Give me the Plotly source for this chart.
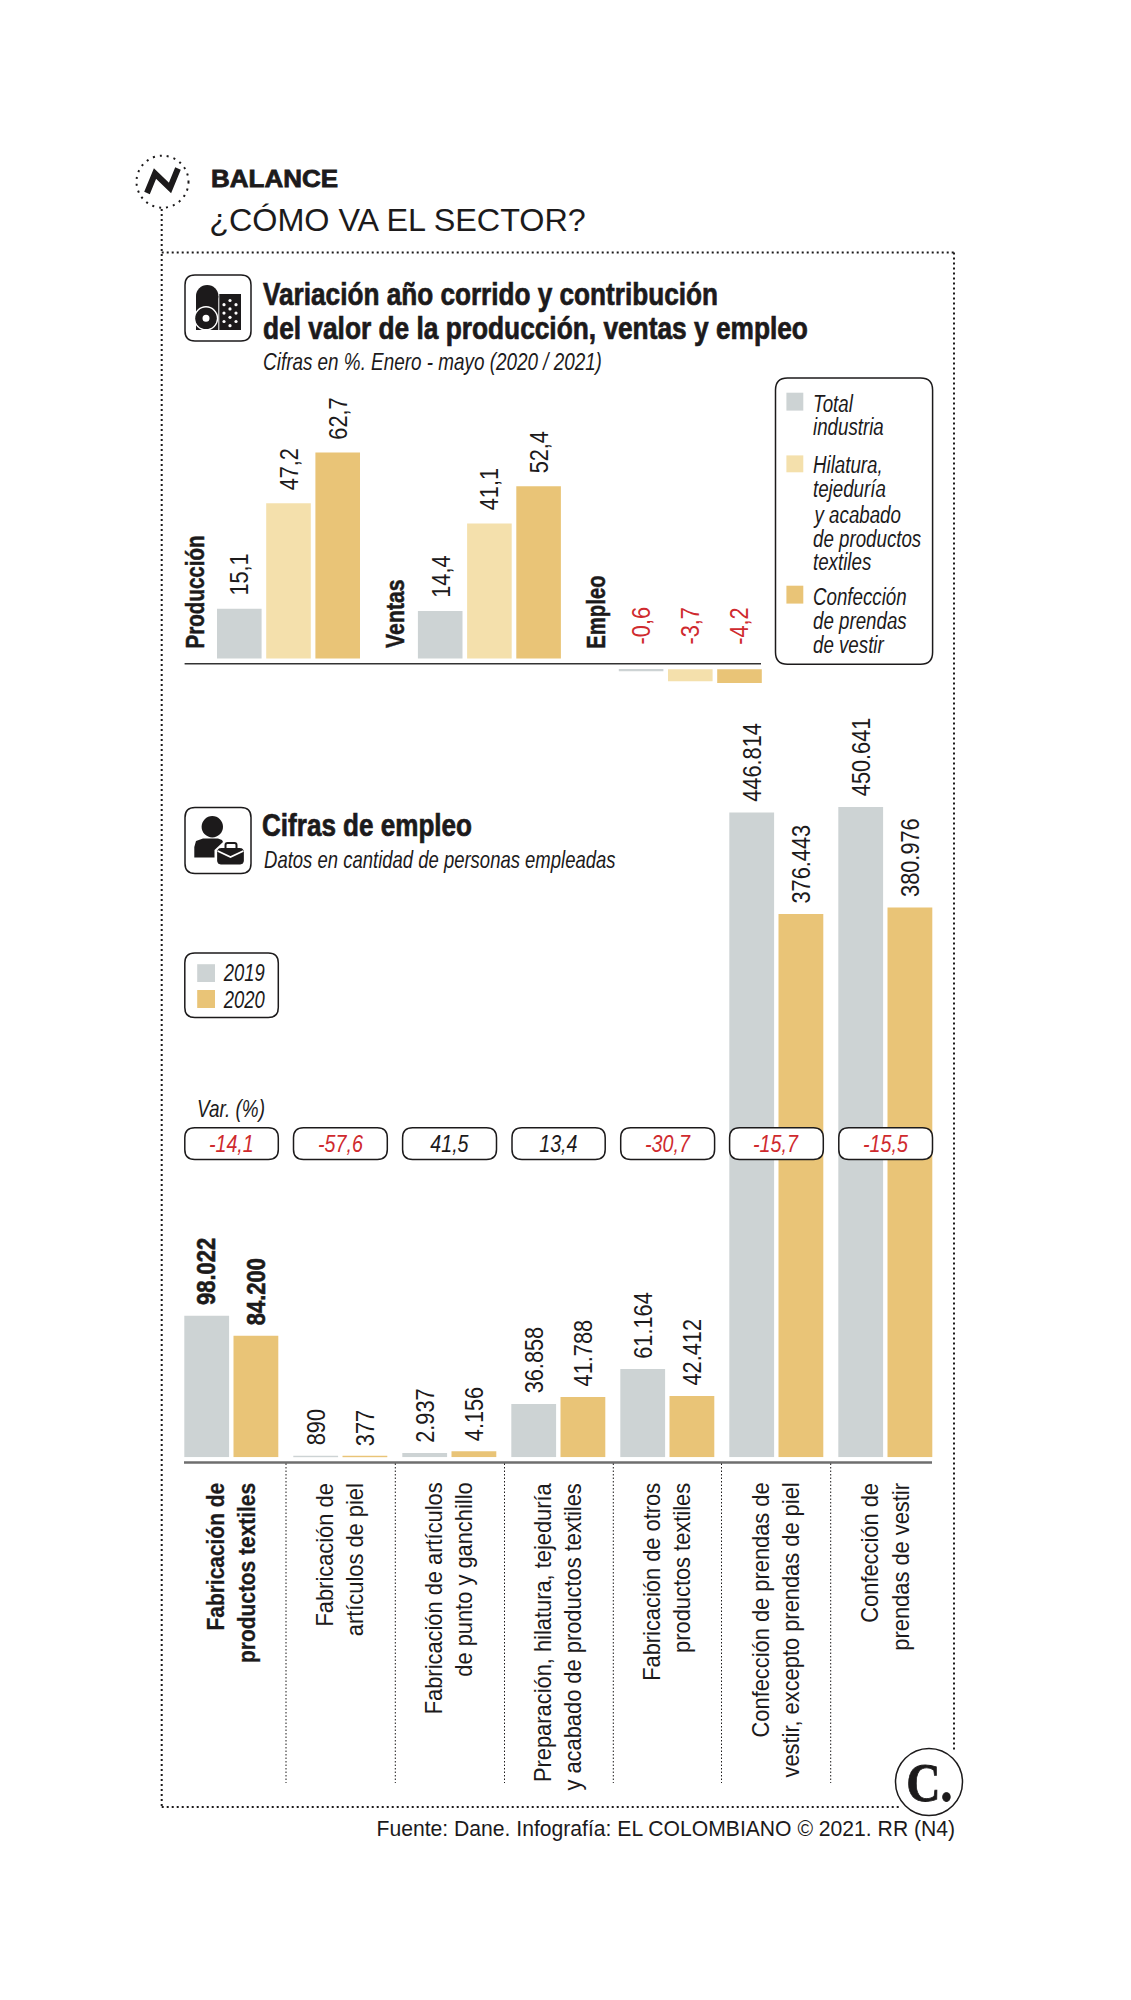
import json
import plotly.graph_objects as go

W, H = 1131, 2000
SANS = "Liberation Sans, Arial, sans-serif"
INK = "#1c1a1b"
RED = "#cf2a2e"
GREY = "#cdd3d4"
LIGHT = "#f4e0ac"
GOLD = "#e9c477"

# ---- data: top chart
groups = ["Producción", "Ventas", "Empleo"]
total_industria = [15.1, 14.4, -0.6]
hilatura = [47.2, 41.1, -3.7]
confeccion = [62.7, 52.4, -4.2]
top_labels = [["15,1", "14,4", "-0,6"], ["47,2", "41,1", "-3,7"], ["62,7", "52,4", "-4,2"]]

# ---- data: bottom chart
sectors = [
    "Fabricación de<br>productos textiles",
    "Fabricación de<br>artículos de piel",
    "Fabricación de artículos<br>de punto y ganchillo",
    "Preparación, hilatura, tejeduría<br>y acabado de productos textiles",
    "Fabricación de otros<br>productos textiles",
    "Confección de prendas de<br>vestir, excepto prendas de piel",
    "Confección de<br>prendas de vestir",
]
emp_2019 = [98022, 890, 2937, 36858, 61164, 446814, 450641]
emp_2020 = [84200, 377, 4156, 41788, 42412, 376443, 380976]
labels_2019 = ["98.022", "890", "2.937", "36.858", "61.164", "446.814", "450.641"]
labels_2020 = ["84.200", "377", "4.156", "41.788", "42.412", "376.443", "380.976"]
var_pct = ["-14,1", "-57,6", "41,5", "13,4", "-30,7", "-15,7", "-15,5"]

def fx(x): return x / W
def fy(y): return 1 - y / H

shapes, notes, fits = [], [], {}

def fit(w=None, f=None, p="c", s=None):
    """Condense the note just added, along its reading direction (the reference uses a condensed face)."""
    fits[len(notes) - 1] = dict(w=w, f=f, p=p, s=s)

def text(x, y, s, size, color=INK, xa="left", ya="middle", angle=0, family=SANS, w=None, f=None, stroke=None):
    notes.append(dict(x=fx(x), y=fy(y), xref="paper", yref="paper", text=s, showarrow=False,
                      font=dict(size=size, family=family, color=color), xanchor=xa, yanchor=ya, textangle=angle))
    if w or f or stroke:
        p = {"left": "l", "right": "r", "center": "c"}[xa]
        if angle == -90:
            p = {"bottom": "l", "top": "r", "middle": "c"}[ya]
        fit(w, f, p, stroke)

def rrect(x0, y0, x1, y1, r=10, fill="white", lw=1.5, layer="above", color=INK):
    X0, X1, Y0, Y1 = fx(x0), fx(x1), fy(y0), fy(y1)
    rx, ry = r / W, r / H
    p = (f"M{X0+rx},{Y0} L{X1-rx},{Y0} Q{X1},{Y0} {X1},{Y0-ry} L{X1},{Y1+ry} Q{X1},{Y1} {X1-rx},{Y1} "
         f"L{X0+rx},{Y1} Q{X0},{Y1} {X0},{Y1+ry} L{X0},{Y0-ry} Q{X0},{Y0} {X0+rx},{Y0} Z")
    shapes.append(dict(type="path", path=p, xref="paper", yref="paper", fillcolor=fill,
                       line=dict(color=color, width=lw), layer=layer))

def box(x0, y0, x1, y1, fill=INK, layer="above"):
    shapes.append(dict(type="rect", xref="paper", yref="paper", x0=fx(x0), x1=fx(x1), y0=fy(y1), y1=fy(y0),
                       fillcolor=fill, line=dict(width=0), layer=layer))

def oval(cx, cy, rx, ry=None, fill=INK, line=None, dash=None):
    ry = rx if ry is None else ry
    ln = dict(width=0) if line is None else dict(color=INK, width=line, dash=dash or "solid")
    shapes.append(dict(type="circle", xref="paper", yref="paper", x0=fx(cx-rx), x1=fx(cx+rx), y0=fy(cy+ry), y1=fy(cy-ry),
                       fillcolor=fill, line=ln, layer="above"))

def seg(x0, y0, x1, y1, width=1.5, dash="solid", color=INK):
    shapes.append(dict(type="line", xref="paper", yref="paper", x0=fx(x0), x1=fx(x1), y0=fy(y0), y1=fy(y1),
                       line=dict(color=color, width=width, dash=dash), layer="above"))

def poly(pts, width=0, color=INK, fill=None, close=False):
    d = "M" + " L".join(f"{fx(a)},{fy(b)}" for a, b in pts) + (" Z" if close else "")
    shapes.append(dict(type="path", path=d, xref="paper", yref="paper", layer="above",
                       fillcolor=fill or "rgba(0,0,0,0)", line=dict(color=color, width=width)))

# ---- frame
DOT = "2px,3px"
seg(161.7, 209, 161.7, 1807, 2, DOT)
seg(161.7, 252.5, 954, 252.5, 2, DOT)
seg(954, 252.5, 954, 1752, 2, DOT)
seg(161.7, 1807, 900, 1807, 2, DOT)

# ---- header
oval(162.5, 181.7, 26, 26, fill="white", line=2, dash="2px,5px")
poly([(147, 193), (155, 173.5), (170, 188), (178, 168.5)], width=6)
text(209, 178.7, "<b>BALANCE</b>", 24, w=127, stroke=0.8)
text(206.5, 220, "¿CÓMO VA EL SECTOR?", 32, w=377)

# ---- section 1 heading
rrect(185, 275, 251, 341, 10)
box(196, 296, 218.3, 330)
oval(207.2, 296, 11.2, 11)
oval(206, 318.3, 12.2, 12.2, fill="white")
oval(206, 318.3, 10.8, 10.8)
oval(206, 318.3, 3.5, 3.5, fill="white")
box(219.3, 294, 241, 330)
for col, row in [(1, 0), (0, 1), (2, 1), (1, 2), (0, 3), (2, 3), (1, 4), (0, 5), (2, 5), (1, 6)]:
    oval(224 + col * 6, 300.5 + row * 4.2, 1.6, 1.6, fill="white")
text(260.5, 294, "<b>Variación año corrido y contribución</b>", 31, w=455, stroke=0.7)
text(260.5, 328.5, "<b>del valor de la producción, ventas y empleo</b>", 31, w=545, stroke=0.7)
text(261, 362, "<i>Cifras en %. Enero - mayo (2020 / 2021)</i>", 23, w=339)

# ---- legend 1
rrect(775.5, 378, 932.6, 664.3, 12)
box(786.4, 392.7, 803.3, 410.6, GREY)
box(786.4, 455.4, 803.3, 472.3, LIGHT)
box(786.4, 585.7, 803.3, 603.6, GOLD)
legend_lines = [("Total", 403.6), ("industria", 426.5), ("Hilatura,", 464.3), ("tejeduría", 488.2), ("y acabado", 514),
                ("de productos", 538), ("textiles", 561.8), ("Confección", 596.7), ("de prendas", 620.5), ("de vestir", 644.4)]
for s, y in legend_lines:
    text(811, y, f"<i>{s}</i>", 24, f=0.78)

# ---- section 2 heading
rrect(185, 807.5, 251, 873.5, 10)
oval(212.3, 826.7, 10.7, 10.7)
poly([(194.3, 857.5), (194.3, 847), (196, 841), (203, 838.5), (218, 838.5), (222, 840), (223, 842), (214.5, 850), (214.5, 857.5)], fill=INK, close=True)
rrect(225.5, 843, 236.5, 851, 2, fill="white", lw=2)
rrect(217.7, 848.5, 243.3, 864, 3, fill=INK, lw=1)
poly([(217.7, 851), (230.5, 857), (243.3, 851)], width=1.8, color="white")
text(260, 825.8, "<b>Cifras de empleo</b>", 31, w=210, stroke=0.7)
text(261.5, 859.6, "<i>Datos en cantidad de personas empleadas</i>", 23, w=352)

# ---- legend 2
rrect(184.8, 953, 278.3, 1017.5, 10)
box(197.2, 964.2, 215, 982, GREY)
box(197.2, 990, 215, 1008, GOLD)
text(220.5, 973, "<i>2019</i>", 23, w=42)
text(220.5, 999.7, "<i>2020</i>", 23, w=42)

# ---- top chart
Y0_TOP, PX_TOP = 663.8, 3.285          # px of axis line, px per unit
GAP = 5.4 / PX_TOP                     # bars stand clear of the axis line
BAND1 = 200.9
BW1, PITCH1 = 44.6 / BAND1, 49.2 / BAND1
fig = go.Figure()
series = [("Total industria", total_industria, GREY),
          ("Hilatura, tejeduría y acabado de productos textiles", hilatura, LIGHT),
          ("Confección de prendas de vestir", confeccion, GOLD)]
for k, (name, vals, col) in enumerate(series):
    fig.add_bar(x=groups, y=vals, name=name, marker=dict(color=col, line=dict(width=0)),
                base=[GAP if v > 0 else -GAP for v in vals],
                width=BW1, offset=(k - 1) * PITCH1 - BW1 / 2, xaxis="x", yaxis="y", hoverinfo="x+y+name")
    for g, v, lab in zip(groups, vals, top_labels[k]):
        pos = v > 0
        notes.append(dict(x=g, y=(v + GAP) if pos else 0, xref="x", yref="y", text=lab, showarrow=False,
                          xshift=(k - 1) * 49.2, yshift=11 if pos else 17, textangle=-90,
                          xanchor="center", yanchor="bottom",
                          font=dict(size=25, family=SANS, color=INK if pos else RED)))
        fit(f=0.87, p="l")

for x, g, w in [(194.5, groups[0], 113), (395.5, groups[1], 68.5), (596.4, groups[2], 73.5)]:
    text(x, 650.4, f"<b>{g}</b>", 26, xa="center", ya="bottom", angle=-90, w=w, stroke=0.5)
seg(184.6, 663.8, 761, 663.8, 1.5, color="#333333")

# ---- bottom chart
Y0_EMP, PX_EMP = 1457.3, 1.443 / 1000
BW2, PITCH2 = 44.8 / 109, 49.2 / 109
for k, (name, vals, col, labs) in enumerate([("2019", emp_2019, GREY, labels_2019), ("2020", emp_2020, GOLD, labels_2020)]):
    fig.add_bar(x=sectors, y=vals, name=name, marker=dict(color=col, line=dict(width=0)),
                width=BW2, offset=(k - 0.5) * PITCH2 - BW2 / 2, xaxis="x2", yaxis="y2", hoverinfo="x+y+name")
    for i, (s, v, lab) in enumerate(zip(sectors, vals, labs)):
        bold = i == 0
        notes.append(dict(x=s, y=v, xref="x2", yref="y2", text=f"<b>{lab}</b>" if bold else lab, showarrow=False,
                          xshift=(k - 0.5) * 49.2, yshift=8.5, textangle=-90, xanchor="center", yanchor="bottom",
                          font=dict(size=25, family=SANS, color=INK)))
        fit(f=0.88 if bold else 0.87, p="l", s=0.6 if bold else None)

seg(184, 1462.5, 932, 1462.5, 2.5, color="#6e6e6e")
for x in [286, 395.3, 504.5, 613.3, 721.5, 830.7]:
    seg(x, 1463.5, x, 1783, 1, "1.5px,2px")

text(195, 1109.3, "<i>Var. (%)</i>", 23, w=68)
pills = [(184.8, 278.3), (293.5, 387.3), (402.6, 496.5), (512, 605.2), (620.7, 714.6), (729.6, 823.3), (838.8, 932.5)]
for (a, b), v in zip(pills, var_pct):
    rrect(a, 1127.8, b, 1159.6, 10)
    text((a + b) / 2, 1143.7, f"<i>{v}</i>", 24, RED if v.startswith("-") else INK, xa="center", f=0.82)

for i, s in enumerate(sectors):
    notes.append(dict(x=s, xref="x2", y=fy(1481), yref="paper", text=f"<b>{s}</b>" if i == 0 else s, showarrow=False,
                      textangle=-90, xanchor="center", yanchor="top", align="right",
                      font=dict(size=23.5, family=SANS, color=INK)))
    fit(f=0.89 if i == 0 else 0.93, p="r", s=0.3 if i == 0 else None)

# ---- C logo and source
oval(929, 1782, 33.5, 33.5, fill="white", line=1.5)
text(929, 1783, "<b>C.</b>", 54, xa="center", family="Liberation Serif", f=0.88, stroke=0.8)
text(956.5, 1828, "Fuente: Dane. Infografía: EL COLOMBIANO © 2021. RR (N4)", 22, xa="right", w=579)

top_lo, top_hi = -12, 80
emp_hi = 500000
fig.update_layout(
    width=W, height=H, margin=dict(l=0, r=0, t=0, b=0), showlegend=False,
    paper_bgcolor="white", plot_bgcolor="white", barmode="group",
    xaxis=dict(domain=[fx(288.5 - BAND1 / 2), fx(288.5 + 2.5 * BAND1)], anchor="y", visible=False, type="category",
               range=[-0.5, 2.5], fixedrange=True),
    yaxis=dict(domain=[fy(Y0_TOP - top_lo * PX_TOP), fy(Y0_TOP - top_hi * PX_TOP)], anchor="x", visible=False,
               range=[top_lo, top_hi], fixedrange=True),
    xaxis2=dict(domain=[fx(176.8), fx(939.8)], anchor="y2", visible=False, type="category", range=[-0.5, 6.5], fixedrange=True),
    yaxis2=dict(domain=[fy(Y0_EMP), fy(Y0_EMP - emp_hi * PX_EMP)], anchor="x2", visible=False, range=[0, emp_hi], fixedrange=True),
    shapes=shapes, annotations=notes,
)

script = """
document.body.style.margin='0';
var specs = %s;
document.querySelectorAll('g.annotation').forEach(function(g){
  var sp = specs[g.getAttribute('data-index')];
  if(!sp) return;
  var t = g.querySelector('text.annotation-text');
  var b = t.getBBox();
  var f = sp.w ? sp.w / b.width : (sp.f || 1);
  var px = sp.p === 'l' ? b.x : (sp.p === 'r' ? b.x + b.width : b.x + b.width / 2);
  var old = t.getAttribute('transform') || '';
  t.setAttribute('transform', 'translate(' + px + ',0) scale(' + f + ',1) translate(' + (-px) + ',0) ' + old);
  if(sp.s){ t.style.stroke = t.style.fill; t.style.strokeWidth = sp.s + 'px'; }
});
""" % json.dumps(fits)
fig.write_html("out.html", post_script=script, config=dict(displayModeBar=False))
